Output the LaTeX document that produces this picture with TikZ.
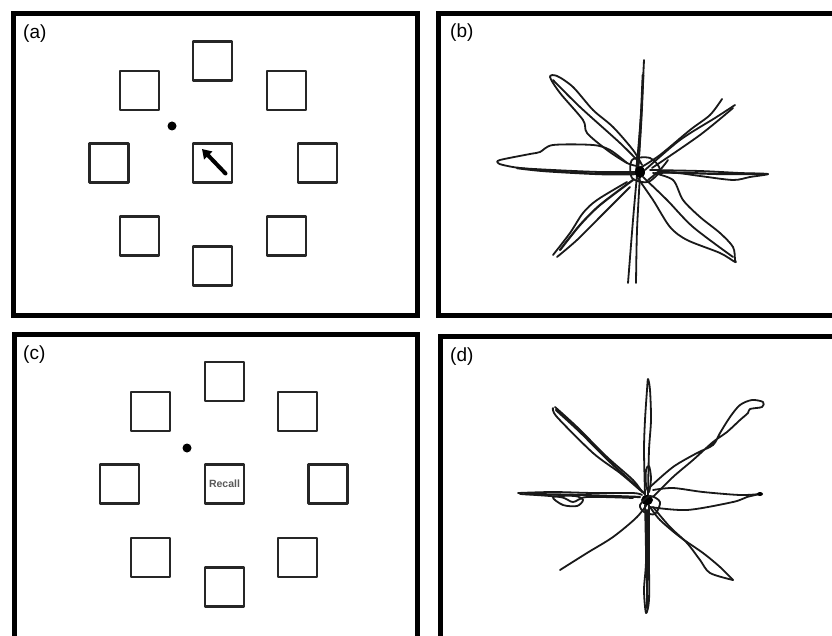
\documentclass[tikz,border=0pt]{standalone}
\usepackage{fontspec}
\setmainfont{Liberation Sans}
\usetikzlibrary{arrows.meta}
\begin{document}
\begin{tikzpicture}[x=1pt,y=-1pt,
  frame/.style={line width=5pt},
  tgt/.style={draw=black!85, line width=2.2pt, minimum size=39pt, inner sep=0pt, line join=round},
  lab/.style={anchor=base west, inner sep=0pt, font=\fontsize{19}{19}\selectfont},
  trace/.style={line width=1.8pt, line join=round, line cap=round, draw=black!90},
  fixdot/.style={fill, circle, minimum size=9pt, inner sep=0pt}]
\useasboundingbox (0,0) rectangle (832,636);
\clip (0,0) rectangle (832,636);
\fill[white] (0,0) rectangle (832,636);
% frames
\draw[frame] (13,14) rectangle (417,315);
\draw[frame] (438,14) rectangle (850,315);
\draw[frame] (14,334) rectangle (417,660);
\draw[frame] (440,336) rectangle (850,660);
% labels
\node[lab] (la) at (23,39) {(a)};
\node[lab] (lb) at (450,38) {(b)};
\node[lab] (lc) at (23,359) {(c)};
\node[lab] (ld) at (450,361) {(d)};
% panel (a)
\node[tgt] (ca) at (212.5,163) {};
\node[tgt] (ta) at (212.5,61) {};
\node[tgt] (ba) at (212.5,266) {};
\node[tgt] (wa) at (109,163) {};
\node[tgt] (ea) at (317.5,163) {};
\node[tgt] (nwa) at (139.5,90.5) {};
\node[tgt] (nea) at (286.5,90.5) {};
\node[tgt] (swa) at (139.5,236) {};
\node[tgt] (sea) at (286.5,236) {};
\node[fixdot] (fa) at (172,126) {};
\coordinate (atail) at (225.5,173.5);
\coordinate (ahead) at (202,149);
\draw[line width=4pt, line cap=round, -{Triangle[length=9pt,width=11pt]}] (atail) -- (ahead);
% panel (c)
\node[tgt, font=\fontsize{10.5}{10.5}\selectfont\bfseries, text=black!65] (cc) at (224.5,484) {Recall};
\node[tgt] (tc) at (224.5,381.5) {};
\node[tgt] (bc) at (224.5,587) {};
\node[tgt] (wc) at (119.5,484) {};
\node[tgt] (ec) at (328,484) {};
\node[tgt] (nwc) at (150.5,411.5) {};
\node[tgt] (nec) at (297.5,411.5) {};
\node[tgt] (swc) at (150.5,557.5) {};
\node[tgt] (sec) at (297.5,557.5) {};
\node[fixdot] (fc) at (187,448) {};
% panel (b) traces
\begin{scope}[trace]
% up
\draw plot[smooth] coordinates {(636,172) (639,140) (642,100) (644,60) (642,100) (640,140) (638,172)};
\draw[line width=2.6pt] plot[smooth] coordinates {(638,165) (641,120) (643,75)};
% down
\draw plot[smooth] coordinates {(637,175) (633,220) (628,283)};
\draw plot[smooth] coordinates {(640,175) (637,230) (636,283)};
% left lobe
\draw plot[smooth] coordinates {(627,163) (610,150) (593,145) (553,145) (540,152) (530,154) (500,160) (498,163) (503,165) (520,168) (553,170) (600,172) (637,172)};
\draw[line width=2.4pt] plot[smooth] coordinates {(517,168) (545,171) (600,174) (637,174)};
% right
\draw plot[smooth] coordinates {(650,170) (700,171) (740,173) (768,174) (750,177) (733,180) (700,176) (677,173) (655,173)};
\draw[line width=2.2pt] plot[smooth] coordinates {(660,172) (720,174) (760,174)};
% upper-left lobe
\draw plot[smooth] coordinates {(637,166) (627,163) (607,150) (587,133) (583,120) (560,93) (550,77) (557,76) (573,87) (593,110) (613,127) (633,150) (642,165)};
\draw plot[smooth] coordinates {(553,80) (580,107) (620,143) (640,163)};
% upper-right
\draw plot[smooth] coordinates {(640,168) (660,155) (690,130) (710,115) (722,99)};
\draw plot[smooth] coordinates {(645,170) (680,140) (715,118) (735,105)};
\draw plot[smooth] coordinates {(652,168) (700,135) (733,108)};
\draw plot[smooth] coordinates {(648,180) (660,170) (668,160)};
% lower-left
\draw plot[smooth] coordinates {(627,182) (597,200) (583,213) (570,233) (553,255)};
\draw plot[smooth] coordinates {(630,187) (600,217) (577,240) (557,257)};
\draw[line width=2.2pt] plot[smooth] coordinates {(633,180) (600,205) (580,225) (560,250)};
% lower-right lobe
\draw plot[smooth] coordinates {(637,177) (653,200) (670,227) (687,240) (720,253) (735,262) (735,260) (733,247) (720,233) (700,217) (683,200) (673,180) (653,173)};
\draw plot[smooth] coordinates {(643,177) (667,200) (693,227) (733,257)};
% knot
\fill (640,172) ellipse (5pt and 6pt);
\draw plot[smooth cycle] coordinates {(632,160) (650,158) (660,170) (648,182) (632,178)};
\end{scope}
% panel (d) traces
\begin{scope}[trace]
% up
\draw plot[smooth] coordinates {(645,495) (644,450) (645,420) (647,390) (648,379) (650,390) (651,420) (649,450) (648,495)};
\draw plot[smooth cycle] coordinates {(646,470) (649,466) (651,478) (649,492) (646,485)};
% down
\draw plot[smooth] coordinates {(645,505) (646,560) (644,590) (646,613) (649,600) (649,560) (649,505)};
\draw[line width=2.6pt] plot[smooth] coordinates {(647,510) (647,570) (647,608)};
% upper-left
\draw plot[smooth] coordinates {(640,490) (620,473) (593,453) (557,417) (553,408)};
\draw plot[smooth] coordinates {(642,492) (633,480) (607,457) (577,427) (555,407)};
\draw[line width=2.2pt] plot[smooth] coordinates {(645,494) (610,462) (580,432) (556,410)};
% upper-right with loop
\draw plot[smooth] coordinates {(650,487) (673,467) (697,453) (713,445) (720,433) (730,417) (740,405) (752,400) (763,402) (762,407) (750,409) (748,413) (740,420) (727,432) (713,442) (693,460) (673,477) (653,497)};
% left
\draw plot[smooth] coordinates {(642,495) (633,493) (593,493) (553,492) (518,493)};
\draw plot[smooth] coordinates {(520,494) (560,497) (573,502) (587,497) (633,498)};
\draw plot[smooth cycle] coordinates {(553,497) (563,505) (577,506) (583,500) (575,496)};
\draw[line width=2.2pt] plot[smooth] coordinates {(525,494) (580,495) (640,497)};
% right
\draw plot[smooth] coordinates {(653,490) (673,488) (703,492) (740,495) (760,494)};
\draw plot[smooth] coordinates {(650,507) (687,510) (733,502) (747,497) (760,494)};
\fill (760,494) ellipse (3pt and 2pt);
% lower-left
\draw plot[smooth] coordinates {(650,500) (637,517) (613,537) (587,553) (560,570)};
% lower-right
\draw plot[smooth] coordinates {(653,507) (670,527) (687,543) (700,560) (710,573) (733,580)};
\draw plot[smooth] coordinates {(650,507) (660,520) (680,537) (703,553) (720,567) (733,580)};
% knot
\fill (647,500) ellipse (6pt and 5pt);
\draw plot[smooth cycle] coordinates {(640,505) (650,496) (660,502) (655,514) (644,512)};
\end{scope}
\end{tikzpicture}
\end{document}
